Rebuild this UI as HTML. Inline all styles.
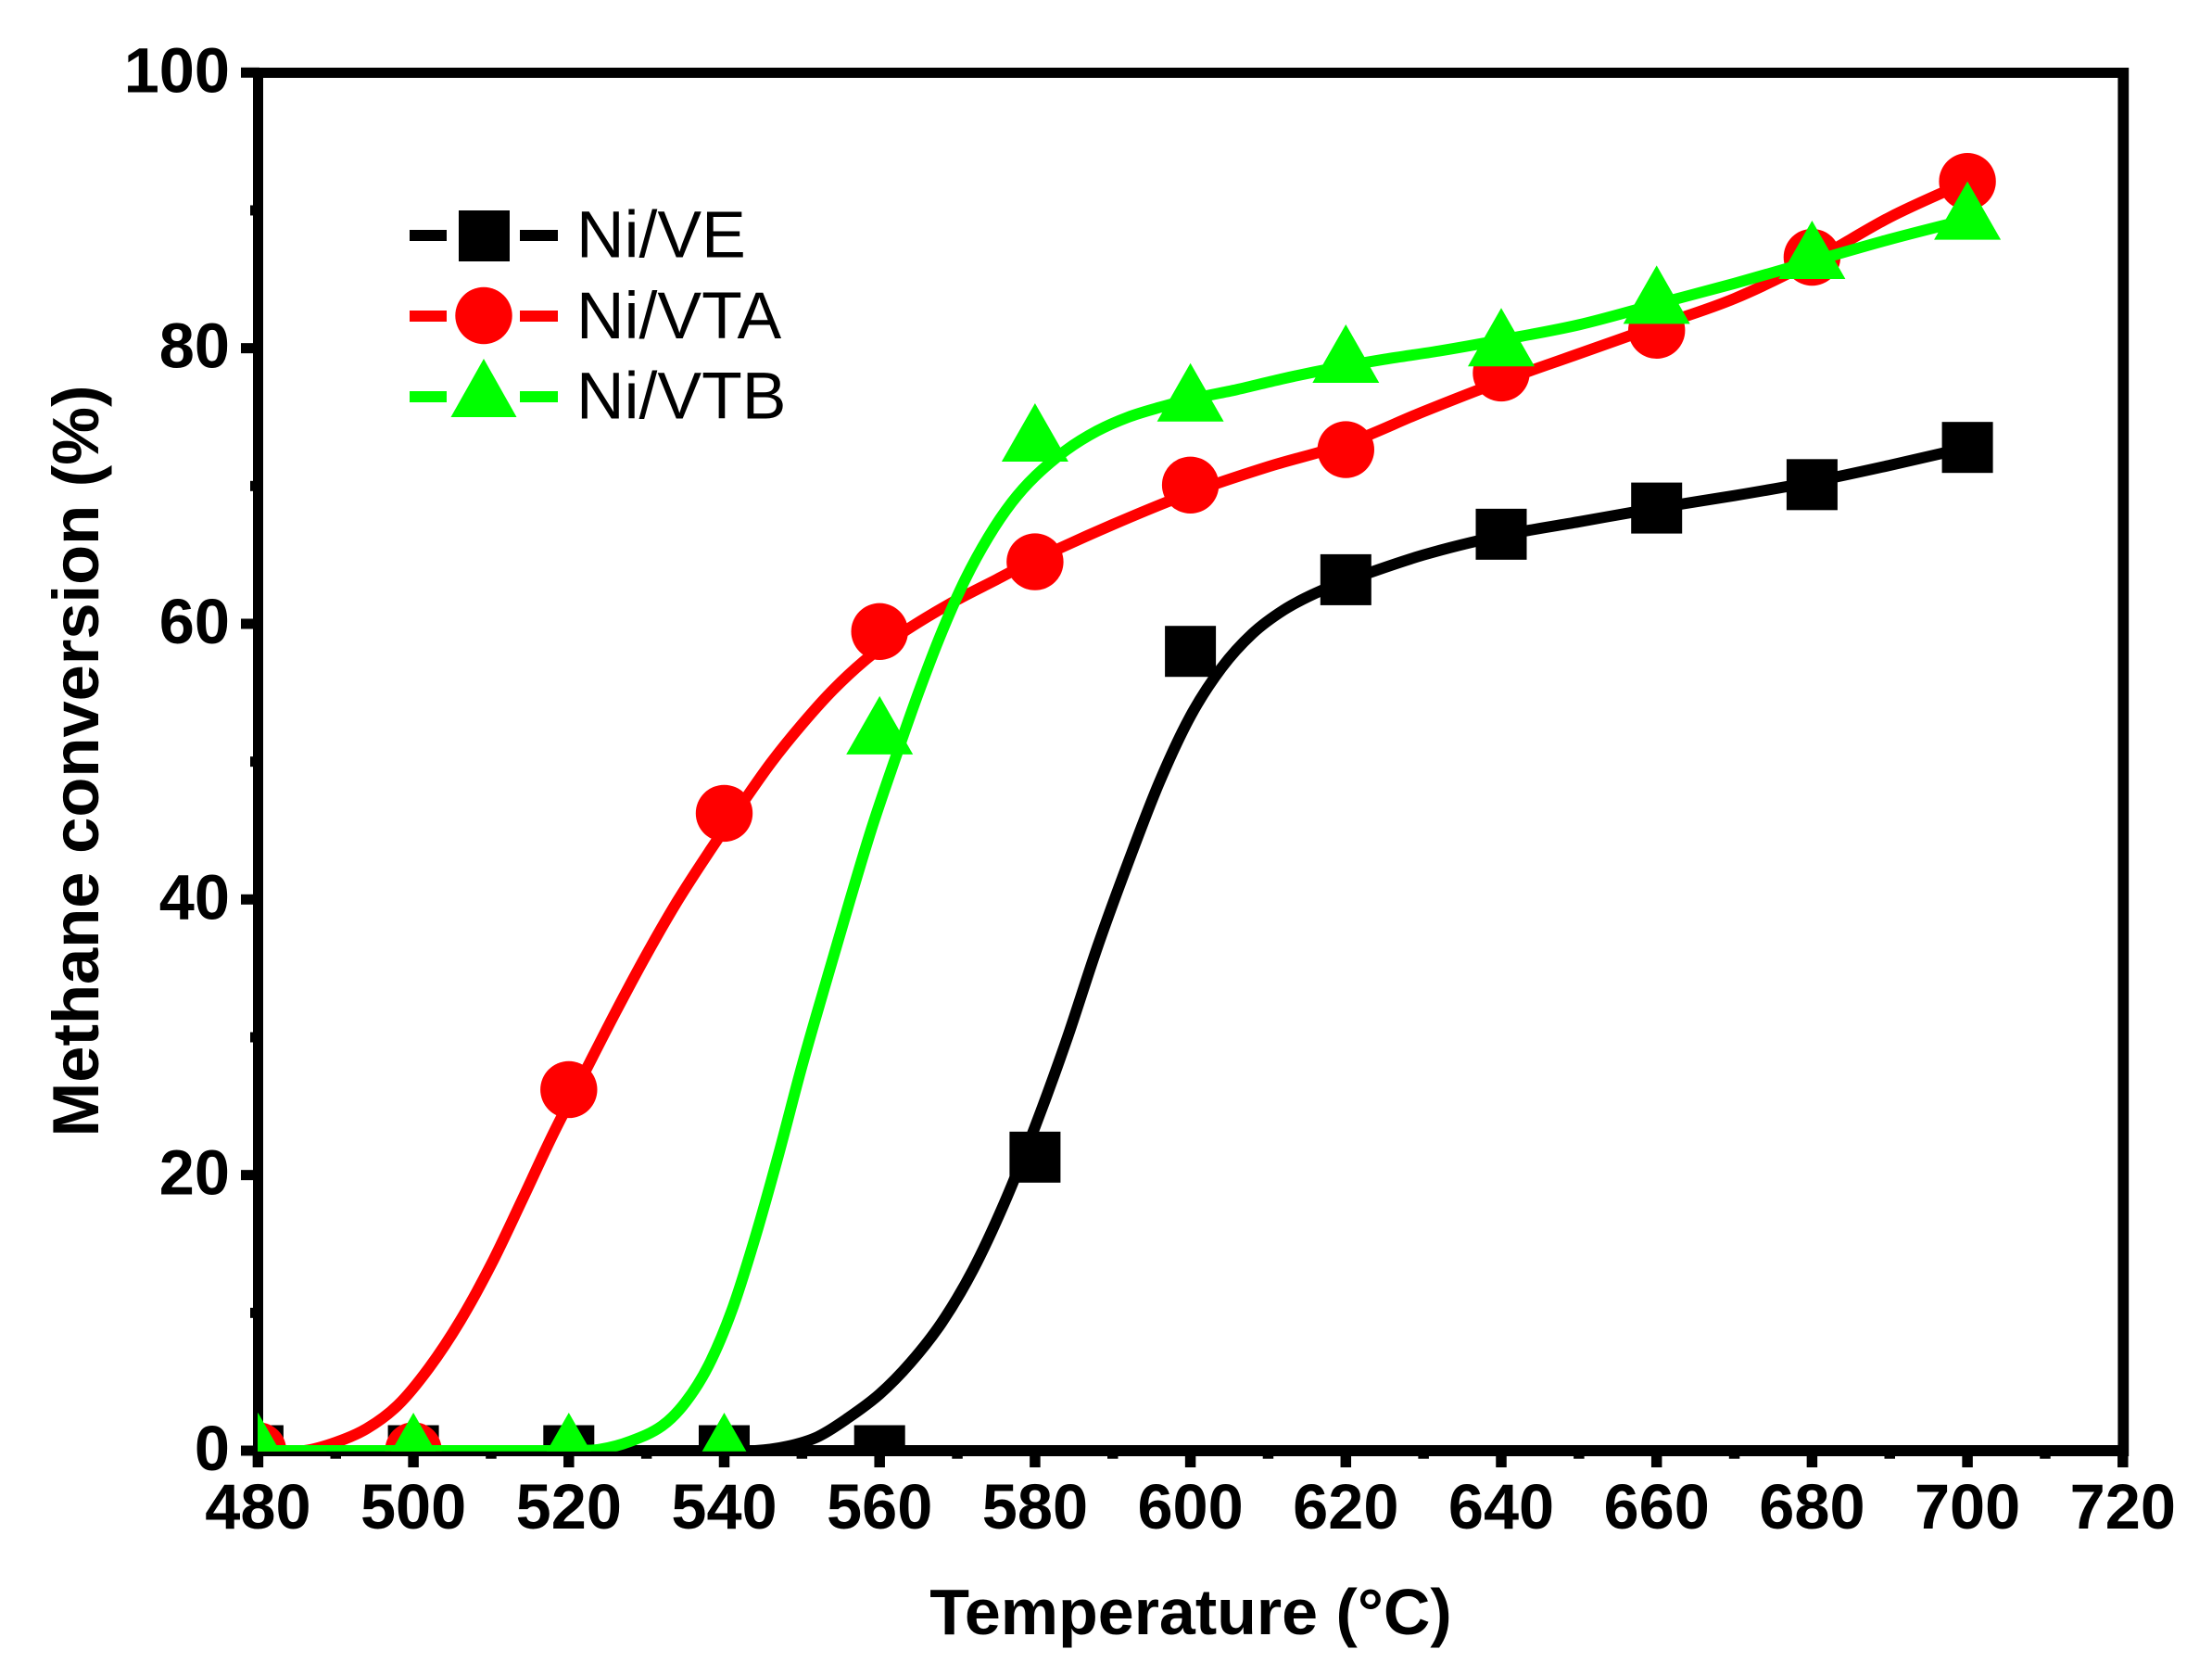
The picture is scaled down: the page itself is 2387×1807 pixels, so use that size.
<!DOCTYPE html>
<html lang="en">
<head>
<meta charset="utf-8">
<title>Methane conversion vs temperature</title>
<style>
html,body{margin:0;padding:0;background:#fff;}
svg{display:block;}
text{font-family:"Liberation Sans",Arial,sans-serif;fill:#000;}
.tick{font-weight:bold;font-size:68.5px;}
.title{font-weight:bold;font-size:70.5px;}
.xtitle{font-weight:bold;font-size:70px;}
.leg{font-size:71.5px;}
</style>
</head>
<body>
<svg id="chart" width="2387" height="1807" viewBox="0 0 2387 1807" xmlns="http://www.w3.org/2000/svg">
  <defs>
    <clipPath id="plot-clip"><rect x="278" y="0" width="2109" height="1565.7"/></clipPath>
  </defs>
  <rect x="0" y="0" width="2387" height="1807" fill="#fff"/>
  <g id="ticks"></g>
  <g>
    <rect x="273" y="73" width="11" height="1498" fill="#000"/>
    <rect x="2285.4" y="73" width="11.8" height="1498" fill="#000"/>
    <rect x="273" y="73" width="2024" height="11" fill="#000"/>
    <rect x="273" y="1559" width="2024" height="12" fill="#000"/>
  </g>
  <g id="xlabels"></g>
  <g id="ylabels"></g>
  <text class="xtitle" x="1285" y="1763" text-anchor="middle">Temperature (°C)</text>
  <text class="title" transform="translate(106 821) rotate(-90)" text-anchor="middle">Methane conversion (%)</text>
  <g id="series" clip-path="url(#plot-clip)"></g>
  <g>
    <g>
      <rect x="442" y="248" width="40" height="12" fill="#000"/>
      <rect x="561" y="248" width="41" height="12" fill="#000"/>
      <rect x="495" y="227" width="55" height="55" fill="#000"/>
      <text class="leg" x="622" y="277.7">Ni/VE</text>
    </g>
    <g>
      <rect x="442" y="335" width="40" height="12" fill="#f00"/>
      <rect x="561" y="335" width="41" height="12" fill="#f00"/>
      <circle cx="522" cy="340.5" r="30.7" fill="#f00"/>
      <text class="leg" x="622" y="365">Ni/VTA</text>
    </g>
    <g>
      <rect x="442" y="422" width="40" height="12" fill="#0f0"/>
      <rect x="561" y="422" width="41" height="12" fill="#0f0"/>
      <polygon points="522,387 557.5,450 486.5,450" fill="#0f0"/>
      <text class="leg" x="622" y="451.7">Ni/VTB</text>
    </g>
  </g>
</svg>
<script>
// Tick labels
var xTickLabels = [480,500,520,540,560,580,600,620,640,660,680,700,720];
var yTickLabels = [0,20,40,60,80,100];
var xMinorTicks = [490,510,530,550,570,590,610,630,650,670,690,710];
var yMinorTicks = [10,30,50,70,90];

// Measured points
var temperatures = [480,500,520,540,560,580,600,620,640,660,680,700];
var niVE  = [0,0,0,0,0,21.3,58,63.2,66.5,68.4,70.1,72.8];
var niVTA = [0,0,26.2,46.25,59.44,64.5,70.07,72.64,78.2,81.3,86.6,92.1];
var niVTB = [0,0,0,0,52,73.25,76.16,78.97,80.16,83.25,86.5,89.35];

// Fitted curves
var fitVETemps = [480,500,520,535,540,544,548,552,556,560,564,568,572,576,580,584,588,592,596,600,604,608,612,616,620,630,640,650,660,670,680,690,700];
var fitVEValues = [0,0,0,0,0,0,0.3,1,2.4,4.1,6.4,9.3,13.1,17.9,23.5,29.7,36.5,42.7,48.5,53.3,56.8,59.3,61,62.2,63.1,65,66.4,67.4,68.4,69.3,70.3,71.5,72.8];

var fitVTATemps = [480,482,486,490,494,498,502,506,510,514,518,522,526,530,534,538,542,546,550,554,558,562,566,570,575,580,590,600,610,620,630,640,650,660,670,680,690,700];
var fitVTAValues = [0,0,0,0.6,1.6,3.3,6,9.4,13.5,18.2,23,27.4,31.8,36,39.9,43.4,46.7,49.9,52.7,55.2,57.3,59,60.45,61.75,63.2,64.65,67.2,69.5,71.4,73.05,75.4,77.6,79.6,81.6,83.6,86.3,89.5,92.1];

var fitVTBTemps = [480,500,512,516,520,524,528,532,535,538,541,544,547,550,553,556,559,562,565,568,571,574,577,580,584,588,592,596,600,606,612,618,625,632,640,650,660,670,680,690,700];
var fitVTBValues = [0,0,0,0,0,0.1,0.7,1.8,3.5,6.2,10.2,15.5,21.5,27.9,33.8,39.6,45.2,50.2,55,59.4,63.2,66.3,68.8,70.7,72.6,74,75,75.7,76.3,77,77.8,78.5,79.2,79.8,80.6,81.7,83.2,84.7,86.3,87.9,89.35];

var X0 = 278.4, XPER = 8.385, Y0 = 1565, YPER = 14.867;
function xScale(t){ return X0 + (t - 480) * XPER; }
function yScale(v){ return Y0 - v * YPER; }

var NS = 'http://www.w3.org/2000/svg';
function mk(tag, parentId){
  var el = document.createElementNS(NS, tag);
  document.getElementById(parentId).appendChild(el);
  return el;
}

xTickLabels.forEach(function(t){
  var r = mk('rect','ticks');
  r.setAttribute('x', xScale(t) - 5.75);
  r.setAttribute('y', 1560);
  r.setAttribute('width', 11.5);
  r.setAttribute('height', 23);
  r.setAttribute('fill', '#000');
  
  
  var l = mk('text','xlabels');
  l.setAttribute('class', 'tick');
  l.setAttribute('x', xScale(t));
  l.setAttribute('y', 1649);
  l.setAttribute('text-anchor', 'middle');
  
  
  l.textContent = t;
});
xMinorTicks.forEach(function(t){
  var r = mk('rect','ticks');
  r.setAttribute('x', xScale(t) - 5.75);
  r.setAttribute('y', 1560);
  r.setAttribute('width', 11.5);
  r.setAttribute('height', 13.7);
  r.setAttribute('fill', '#000');
  
  
});
yTickLabels.forEach(function(v){
  var r = mk('rect','ticks');
  r.setAttribute('x', 260);
  r.setAttribute('y', yScale(v) - 5.5);
  r.setAttribute('width', 20);
  r.setAttribute('height', 11);
  r.setAttribute('fill', '#000');
  
  
  var l = mk('text','ylabels');
  l.setAttribute('class', 'tick');
  l.setAttribute('x', 248);
  l.setAttribute('y', yScale(v) + 21);
  l.setAttribute('text-anchor', 'end');
  
  
  l.textContent = v;
});
yMinorTicks.forEach(function(v){
  var r = mk('rect','ticks');
  r.setAttribute('x', 270);
  r.setAttribute('y', yScale(v) - 5.5);
  r.setAttribute('width', 10);
  r.setAttribute('height', 11);
  r.setAttribute('fill', '#000');
  
  
});

// Smooth path through the fit arrays (Catmull-Rom to Bezier, non-uniform tangents)
function smoothPath(ts, vs){
  var p = ts.map(function(t, i){ return [xScale(t), yScale(vs[i])]; });
  var n = p.length;
  function slope(i){
    if (i === 0) return (p[1][1] - p[0][1]) / (p[1][0] - p[0][0]);
    if (i === n - 1) return (p[n-1][1] - p[n-2][1]) / (p[n-1][0] - p[n-2][0]);
    return (p[i+1][1] - p[i-1][1]) / (p[i+1][0] - p[i-1][0]);
  }
  var d = 'M' + p[0][0].toFixed(2) + ' ' + p[0][1].toFixed(2);
  for (var i = 0; i < n - 1; i++){
    var h = (p[i+1][0] - p[i][0]) / 3;
    var s0 = slope(i), s1 = slope(i + 1);
    d += 'C' + (p[i][0] + h).toFixed(2) + ' ' + (p[i][1] + s0 * h).toFixed(2) + ' ' +
         (p[i+1][0] - h).toFixed(2) + ' ' + (p[i+1][1] - s1 * h).toFixed(2) + ' ' +
         p[i+1][0].toFixed(2) + ' ' + p[i+1][1].toFixed(2);
  }
  return d;
}

function drawCurve(ts, vs, color){
  var c = mk('path','series');
  c.setAttribute('d', smoothPath(ts, vs));
  c.setAttribute('fill', 'none');
  c.setAttribute('stroke', color);
  c.setAttribute('stroke-width', 12);
  c.setAttribute('stroke-linejoin', 'round');
  return c;
}

// Ni/VE
var curveVE = drawCurve(fitVETemps, fitVEValues, '#000');


temperatures.forEach(function(t, i){
  var m = mk('rect','series');
  m.setAttribute('x', xScale(t) - 27.5);
  m.setAttribute('y', yScale(niVE[i]) - 27.5);
  m.setAttribute('width', 55);
  m.setAttribute('height', 55);
  m.setAttribute('fill', '#000');
  
  
});

// Ni/VTA
var curveVTA = drawCurve(fitVTATemps, fitVTAValues, '#f00');


temperatures.forEach(function(t, i){
  var m = mk('circle','series');
  m.setAttribute('cx', xScale(t));
  m.setAttribute('cy', yScale(niVTA[i]));
  m.setAttribute('r', 30.7);
  m.setAttribute('fill', '#f00');
  
  
});

// Ni/VTB
var curveVTB = drawCurve(fitVTBTemps, fitVTBValues, '#0f0');


temperatures.forEach(function(t, i){
  var m = mk('polygon','series');
  var px = xScale(t), py = yScale(niVTB[i]);
  m.setAttribute('points', px + ',' + (py - 41) + ' ' + (px + 36) + ',' + (py + 22) + ' ' + (px - 36) + ',' + (py + 22));
  m.setAttribute('fill', '#0f0');
  
  
});
</script>
</body>
</html>
